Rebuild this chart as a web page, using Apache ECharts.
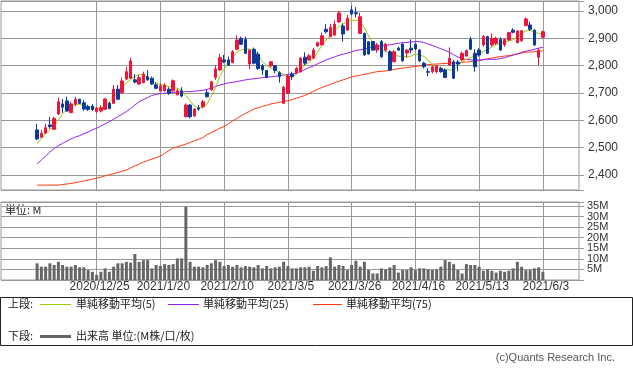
<!DOCTYPE html>
<html><head><meta charset="utf-8">
<script src="https://cdn.jsdelivr.net/npm/echarts@6/dist/echarts.min.js"></script>
<style>html,body{margin:0;padding:0;background:#fff}#c{width:633px;height:372px}</style>
</head><body><div id="c"></div>
<script>
// ---- data ----
const slotCount = 136;          // category slots on the x axis
const firstSlot = 8;            // slot of the first candle
const labelSlots = [22, 37, 52, 67, 82, 97, 112, 127];
const tickLabels = ['2020/12/25','2021/1/20','2021/2/10','2021/3/5','2021/3/26','2021/4/16','2021/5/13','2021/6/3'];

const open = [2565,2538,2553,2583,2567,2623,2660,2671,2628,2659,
2677,2664,2650,2652,2632,2634,2640,2662,2662,2714,
2701,2751,2754,2748,2733,2738,2760,2754,2730,2707,
2708,2714,2708,2693,2708,2613,2656,2616,2645,2650,
2701,2711,2757,2784,2821,2821,2811,2860,2900,2896,
2806,2860,2842,2800,2782,2799,2800,2774,2662,2699,
2769,2774,2778,2831,2821,2828,2872,2876,2933,2906,
2912,2960,2945,2930,3004,2994,2918,2918,2888,2888,
2857,2888,2857,2851,2814,2864,2879,2846,2864,2878,
2857,2809,2778,2778,2777,2790,2784,2802,2814,2813,
2821,2835,2896,2845,2857,2876,2906,2876,2882,2896,
2876,2894,2930,2884,2891,2946,2949,2930,2831,2904];
const close = [2532,2553,2573,2577,2607,2668,2648,2634,2660,2677,
2662,2641,2640,2640,2644,2646,2678,2643,2714,2677,
2744,2778,2817,2740,2756,2769,2748,2733,2717,2726,
2729,2699,2745,2708,2689,2656,2613,2641,2641,2668,
2686,2741,2788,2829,2814,2802,2851,2894,2878,2845,
2857,2809,2790,2784,2757,2814,2782,2760,2721,2762,
2760,2790,2827,2809,2836,2857,2884,2909,2924,2940,
2952,2993,2916,2973,2989,2990,2979,2839,2843,2857,
2876,2833,2879,2784,2851,2857,2818,2857,2857,2861,
2818,2796,2776,2796,2799,2778,2757,2827,2754,2806,
2845,2855,2860,2796,2839,2906,2845,2900,2900,2857,
2896,2921,2922,2927,2928,2971,2933,2876,2857,2924];
const low = [2528,2535,2550,2569,2565,2619,2628,2632,2626,2652,
2660,2635,2634,2634,2626,2629,2638,2640,2660,2674,
2696,2748,2751,2735,2729,2735,2745,2729,2714,2705,
2705,2693,2705,2692,2684,2611,2607,2613,2635,2644,
2684,2708,2748,2782,2809,2799,2809,2857,2876,2843,
2788,2805,2784,2766,2754,2794,2772,2738,2660,2696,
2748,2769,2774,2802,2817,2824,2869,2873,2918,2904,
2909,2956,2888,2928,2985,2977,2916,2837,2840,2855,
2847,2828,2850,2780,2813,2855,2814,2828,2845,2857,
2814,2790,2762,2772,2772,2774,2756,2801,2751,2780,
2818,2833,2857,2778,2833,2869,2843,2869,2876,2855,
2869,2891,2918,2882,2888,2945,2928,2872,2800,2900];
const high = [2587,2565,2587,2612,2613,2683,2678,2686,2668,2686,
2679,2674,2657,2659,2650,2655,2681,2667,2729,2729,
2757,2796,2829,2769,2766,2778,2784,2760,2738,2735,
2735,2721,2750,2715,2721,2662,2660,2644,2656,2674,
2711,2744,2802,2843,2839,2833,2857,2912,2906,2906,
2860,2866,2851,2806,2784,2817,2802,2780,2726,2766,
2778,2796,2831,2849,2843,2865,2888,2921,2952,2952,
2965,3000,2955,2985,3018,3014,2994,2921,2890,2890,
2884,2894,2883,2857,2857,2869,2882,2861,2896,2884,
2860,2814,2790,2802,2802,2796,2790,2867,2821,2821,
2851,2860,2906,2860,2864,2912,2909,2918,2906,2904,
2900,2924,2937,2930,2930,2977,2961,2933,2864,2928];
const ma5 = [2515,2533,2552,2565,2579,2601,2623,2641,2652,2660,
2658,2654,2651,2647,2644,2645,2649,2667,2683,2702,
2720,2737,2749,2760,2768,2768,2757,2746,2737,2731,
2727,2724,2720,2717,2711,2689,2671,2652,2645,2647,
2660,2689,2720,2762,2788,2810,2830,2850,2857,2861,
2861,2857,2839,2815,2801,2791,2784,2775,2768,2762,
2757,2769,2784,2801,2813,2826,2848,2876,2894,2910,
2929,2943,2952,2961,2965,2967,2963,2938,2909,2882,
2868,2860,2852,2844,2839,2835,2834,2832,2835,2843,
2839,2834,2819,2806,2797,2790,2785,2784,2784,2799,
2816,2823,2830,2836,2844,2852,2859,2868,2876,2883,
2887,2890,2895,2905,2918,2927,2929,2923,2918,2916];
const ma25 = [2440,2455,2469,2484,2497,2507,2516,2524,2532,2539,
2544,2551,2557,2565,2571,2579,2587,2595,2604,2613,
2623,2632,2644,2656,2668,2676,2683,2691,2695,2698,
2699,2701,2702,2703,2704,2705,2705,2707,2708,2710,
2713,2718,2724,2729,2733,2737,2739,2742,2745,2748,
2750,2752,2754,2756,2758,2759,2761,2763,2766,2768,
2770,2772,2779,2786,2793,2799,2807,2814,2821,2827,
2832,2838,2842,2846,2851,2856,2858,2861,2864,2868,
2870,2873,2874,2876,2879,2882,2884,2885,2887,2888,
2888,2885,2879,2874,2868,2862,2856,2849,2840,2832,
2825,2823,2821,2821,2821,2822,2823,2823,2823,2826,
2829,2834,2839,2843,2849,2853,2856,2860,2864,2867];
const ma75 = [2363,2363,2363,2363,2363,2363,2365,2367,2369,2372,
2375,2378,2381,2385,2388,2392,2397,2401,2405,2409,
2414,2418,2426,2433,2440,2447,2453,2458,2463,2469,
2479,2489,2499,2503,2508,2513,2519,2526,2530,2537,
2548,2555,2563,2571,2577,2587,2598,2607,2617,2625,
2633,2641,2646,2651,2655,2660,2663,2666,2669,2671,
2676,2681,2686,2691,2698,2706,2713,2720,2726,2731,
2738,2743,2748,2753,2759,2762,2765,2768,2771,2775,
2778,2779,2781,2783,2786,2789,2791,2793,2795,2797,
2799,2801,2804,2805,2806,2807,2808,2809,2810,2811,
2812,2813,2815,2816,2818,2822,2825,2828,2831,2833,
2835,2837,2839,2843,2846,2849,2850,2851,2853,2854];
const volume = [7.9,6.3,6.3,7.9,7.1,8.6,7.1,6.3,6.3,7.1,
6.0,6.0,4.7,3.9,2.4,3.9,5.5,3.9,6.3,7.9,
7.9,8.6,8.2,12.3,8.6,9.4,9.4,5.5,7.1,6.6,
7.5,7.1,7.5,10.2,10.2,34.6,8.6,6.3,6.3,6.0,
7.1,7.9,9.4,8.6,6.6,7.1,6.3,7.1,6.0,6.6,
6.3,6.0,7.1,5.5,6.6,5.5,6.0,6.3,8.6,6.6,
5.5,5.5,6.0,6.0,
6.3,4.4,6.6,6.0,6.6,10.7,6.3,7.1,6.6,4.7,
7.1,9.1,6.3,8.6,4.7,3.1,3.1,5.5,5.0,6.0,
7.1,3.5,4.7,4.7,6.0,4.7,5.5,5.5,5.0,4.7,
5.0,6.3,9.4,8.6,7.5,4.7,3.1,7.5,7.1,7.1,
6.3,4.4,5.0,4.4,3.5,4.4,3.9,4.4,5.5,8.6,
6.3,4.7,4.7,5.5,6.0,3.9];

// ---- style ----
const C_UP = '#F0143C', C_DN = '#0C3A9C';
const C_MA5 = '#9ACD00', C_MA25 = '#9B1EF0', C_MA75 = '#FF3A0A';
const C_GRID = '#999999', C_VOL = '#666666';
const NUM_FONT = 'Liberation Sans';
const JP_FONT = 'Noto Sans CJK JP';

const categories = [];
for (let i = 0; i < slotCount; i++) {
  const k = labelSlots.indexOf(i);
  categories.push(k >= 0 ? tickLabels[k] : 's' + i);
}
const candleData = open.map((o, k) => [firstSlot + k, o, close[k], low[k], high[k]]);
const pts = arr => arr.map((v, k) => [firstSlot + k, v]);
const vLines = tickLabels.map(t => ({ xAxis: t }));
const markLineCfg = {
  silent: true, symbol: ['none', 'none'], z: 1,
  label: { show: false }, lineStyle: { color: C_GRID, width: 1, type: 'solid' },
  emphasis: { disabled: true }, animation: false, data: vLines
};

const chart = echarts.init(document.getElementById('c'), null, { renderer: 'canvas' });
chart.setOption({
  animation: false,
  backgroundColor: '#fff',
  textStyle: { fontFamily: NUM_FONT },
  grid: [
    { left: 1, top: 1, width: 578, height: 189, show: true, borderColor: C_GRID, borderWidth: 1 },
    { left: 1, top: 202, width: 578, height: 78, show: true, borderColor: C_GRID, borderWidth: 1 }
  ],
  xAxis: [
    { type: 'category', gridIndex: 0, data: categories, boundaryGap: true,
      axisLine: { show: false }, axisTick: { show: false }, axisLabel: { show: false }, splitLine: { show: false } },
    { type: 'category', gridIndex: 1, data: categories, boundaryGap: true,
      axisLine: { show: false }, axisTick: { show: false }, splitLine: { show: false },
      axisLabel: { interval: (i) => labelSlots.indexOf(i) >= 0, color: '#333', fontSize: 12,
                   fontFamily: NUM_FONT, margin: 1, padding: [0, 0, 0, 6] } }
  ],
  yAxis: [
    { type: 'value', gridIndex: 0, position: 'right', min: 2345, max: 3036.6, splitNumber: 7,
      axisLine: { show: false }, axisTick: { show: true, length: 5, lineStyle: { color: C_GRID } },
      splitLine: { show: true, lineStyle: { color: C_GRID, width: 1 } },
      axisLabel: { margin: 9, color: '#333', fontSize: 12, fontFamily: NUM_FONT,
        formatter: v => (Math.abs(v % 100) < 1e-6 ? v.toLocaleString('en-US') : '') } },
    { type: 'value', gridIndex: 1, position: 'right', min: 0, max: 36.9, interval: 5,
      axisLine: { show: false }, axisTick: { show: true, length: 5, lineStyle: { color: C_GRID } },
      splitLine: { show: true, lineStyle: { color: C_GRID, width: 1 } },
      axisLabel: { margin: 8, color: '#333', fontSize: 11, fontFamily: NUM_FONT,
        formatter: v => (v > 0 && Math.abs(v % 5) < 1e-6 ? v + 'M' : '') } }
  ],
  series: [
    { type: 'candlestick', xAxisIndex: 0, yAxisIndex: 0, z: 3, barWidth: 3,
      encode: { x: 0, y: [1, 2, 3, 4] }, data: candleData,
      itemStyle: { color: C_UP, color0: C_DN, borderColor: C_UP, borderColor0: C_DN, borderWidth: 1 },
      markLine: markLineCfg },
    { type: 'line', xAxisIndex: 0, yAxisIndex: 0, z: 2, data: pts(ma75), showSymbol: false,
      lineStyle: { color: C_MA75, width: 1 } },
    { type: 'line', xAxisIndex: 0, yAxisIndex: 0, z: 2, data: pts(ma25), showSymbol: false,
      lineStyle: { color: C_MA25, width: 1 } },
    { type: 'line', xAxisIndex: 0, yAxisIndex: 0, z: 2, data: pts(ma5), showSymbol: false,
      lineStyle: { color: C_MA5, width: 1 } },
    { type: 'bar', xAxisIndex: 1, yAxisIndex: 1, z: 3, barWidth: 3, data: pts(volume),
      itemStyle: { color: C_VOL }, markLine: markLineCfg }
  ],
  graphic: [
    { type: 'text', x: 5, y: 210, style: { text: '単位: M', font: '11px "' + JP_FONT + '"', fill: '#222', verticalAlign: 'middle' } },
    { type: 'rect', shape: { x: 0.5, y: 297.5, width: 632, height: 48 }, style: { fill: 'none', stroke: '#222', lineWidth: 1 } },
    { type: 'text', x: 8, y: 304, style: { text: '上段:', font: '11px "' + JP_FONT + '"', fill: '#222', verticalAlign: 'middle' } },
    { type: 'line', shape: { x1: 40, y1: 304.5, x2: 71, y2: 304.5 }, style: { stroke: C_MA5, lineWidth: 1 } },
    { type: 'text', x: 76, y: 304, style: { text: '単純移動平均(5)', font: '11px "' + JP_FONT + '"', fill: '#222', verticalAlign: 'middle' } },
    { type: 'line', shape: { x1: 168, y1: 304.5, x2: 199, y2: 304.5 }, style: { stroke: C_MA25, lineWidth: 1 } },
    { type: 'text', x: 203, y: 304, style: { text: '単純移動平均(25)', font: '11px "' + JP_FONT + '"', fill: '#222', verticalAlign: 'middle' } },
    { type: 'line', shape: { x1: 313, y1: 304.5, x2: 342, y2: 304.5 }, style: { stroke: C_MA75, lineWidth: 1 } },
    { type: 'text', x: 346, y: 304, style: { text: '単純移動平均(75)', font: '11px "' + JP_FONT + '"', fill: '#222', verticalAlign: 'middle' } },
    { type: 'text', x: 8, y: 336, style: { text: '下段:', font: '11px "' + JP_FONT + '"', fill: '#222', verticalAlign: 'middle' } },
    { type: 'line', shape: { x1: 40, y1: 336.5, x2: 71, y2: 336.5 }, style: { stroke: C_VOL, lineWidth: 3 } },
    { type: 'text', x: 76, y: 336, style: { text: '出来高 単位:(M株/口/枚)', font: '11px "' + JP_FONT + '"', fill: '#222', verticalAlign: 'middle' } },
    { type: 'text', x: 615, y: 358, style: { text: '(c)Quants Research Inc.', font: '11px "' + NUM_FONT + '"', fill: '#555', align: 'right', verticalAlign: 'middle' } }
  ]
});
</script>
</body></html>
